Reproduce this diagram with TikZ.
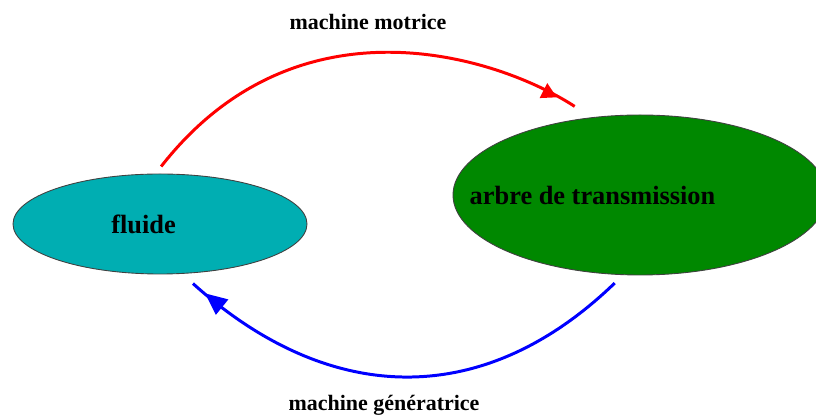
\documentclass[tikz,border=0pt]{standalone}
\usepackage{fontspec}
\setmainfont{Liberation Serif}
\usetikzlibrary{positioning, shapes.geometric, arrows.meta, decorations.markings}
\definecolor{fluidecyan}{RGB}{0,174,178}
\definecolor{arbregreen}{RGB}{0,136,0}

\begin{document}
\begin{tikzpicture}[blob/.style={ellipse, draw=black!75, line width=0.5pt, inner sep=0pt},
  txt/.style={font=\fontsize{15}{18}\selectfont\bfseries},
  lbl/.style={font=\fontsize{12.5}{15}\selectfont\bfseries, anchor=base},
  flux/.style={line width=1.7pt, postaction={decorate}}]
  \useasboundingbox (0,0) rectangle (16.32,8.32);
  \clip (0,0) rectangle (16.32,8.32);

  % nodes
  \node [blob, fill=fluidecyan, minimum width=5.88cm, minimum height=2cm, label={[txt, xshift=-0.33cm]center:fluide}] (fluide) at (3.2,3.84) {};
  \node [blob, fill=arbregreen, minimum width=7.48cm, minimum height=3.2cm, label={[txt, xshift=-0.95cm]center:arbre de transmission}] (arbre) at (12.8,4.42) {};
  \node [lbl] (motrice) at (7.36,7.72) {machine motrice};
  \node [lbl] (generatrice) at (7.68,0.1) {machine génératrice};

  % edges
  \draw [flux, red, shorten <=0.18cm, shorten >=0.4cm, decoration={markings, mark=at position -0.8cm with {\arrow{Triangle[length=0.3cm, width=0.32cm]}}}] (fluide.95) .. controls +(52:4.6) and +(147:2.25) .. (arbre.122);
  \draw [flux, blue, shorten <=0.23cm, shorten >=0.29cm, decoration={markings, mark=at position -0.6cm with {\arrow{Triangle[length=0.44cm, width=0.38cm]}}}] (arbre.258) .. controls +(224:3.9) and +(318:3.95) .. (fluide.294);
\end{tikzpicture}
\end{document}
